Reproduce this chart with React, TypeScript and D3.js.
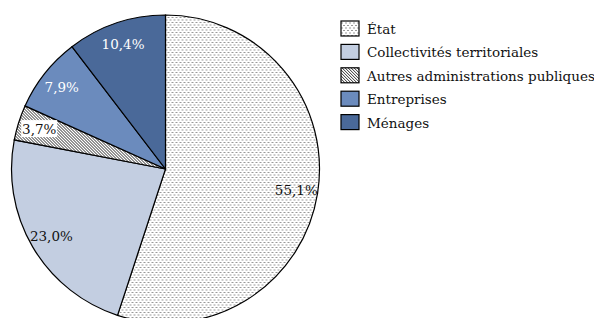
import * as d3 from "d3"

const categories = ["État", "Collectivités territoriales", "Autres administrations publiques", "Entreprises", "Ménages"]
const values = [55.1, 23.0, 3.7, 7.9, 10.4]
const valueLabels = ["55,1%", "23,0%", "3,7%", "7,9%", "10,4%"]

const fills = ["url(#dots)", "#c3cee1", "url(#hatch)", "#6b8bbd", "#4a6999"]
const labelColors = ["#111", "#111", "#111", "#fff", "#fff"]

const FONT = "DejaVu Serif"

export default function App() {
  const width = 594
  const height = 318
  const cx = 165.5
  const cy = 169
  const radius = 154

  const pie = d3.pie<number>().sort(null).value((d) => d)
  const arcs = pie(values)
  const arc = d3.arc<d3.PieArcDatum<number>>().innerRadius(0).outerRadius(radius)
  const labelArc = d3.arc<d3.PieArcDatum<number>>().innerRadius(radius * 0.86).outerRadius(radius * 0.86)

  // legend
  const legendY = d3.scaleBand().domain(categories).range([17, 134]).paddingInner(0)

  return (
    <svg
      width={width}
      height={height}
      style={{ position: "absolute", left: 0, top: 0, background: "#fff", fontFamily: FONT }}
    >
      <defs>
        <pattern id="dots" width="4" height="5" patternUnits="userSpaceOnUse">
          <rect width="4" height="5" fill="#fff" />
          <rect x="0.5" y="0.5" width="1" height="1" fill="#333" />
          <rect x="2.5" y="3" width="1" height="1" fill="#333" />
        </pattern>
        <pattern id="hatch" width="3" height="3" patternUnits="userSpaceOnUse">
          <rect width="3" height="3" fill="#fff" />
          <path d="M0,0 L3,3 M-1,2 L1,4 M2,-1 L4,1" stroke="#111" strokeWidth="0.9" />
        </pattern>
      </defs>

      <g transform={`translate(${cx},${cy})`}>
        {arcs.map((a, i) => (
          <path key={i} d={arc(a) || ""} fill={fills[i]} stroke="#000" strokeWidth={1.2} />
        ))}
        {arcs.map((a, i) => {
          const [lx, ly] = labelArc.centroid(a)
          return (
            <g key={"l" + i} transform={`translate(${lx},${ly})`}>
              {i === 2 && <rect x={-18} y={-9} width={36} height={17} fill="#fff" />}
              <text
                textAnchor="middle"
                dominantBaseline="central"
                fontSize={13.5}
                fill={labelColors[i]}
              >
                {valueLabels[i]}
              </text>
            </g>
          )
        })}
      </g>

      <g>
        {categories.map((c, i) => {
          const y = legendY(c)!
          return (
            <g key={c} transform={`translate(341,${y})`}>
              <rect x={0} y={4} width={18} height={15} fill={fills[i]} stroke="#000" strokeWidth={1.2} />
              <text x={26} y={12} dominantBaseline="central" fontSize={13.5} fill="#111">
                {c}
              </text>
            </g>
          )
        })}
      </g>
    </svg>
  )
}
